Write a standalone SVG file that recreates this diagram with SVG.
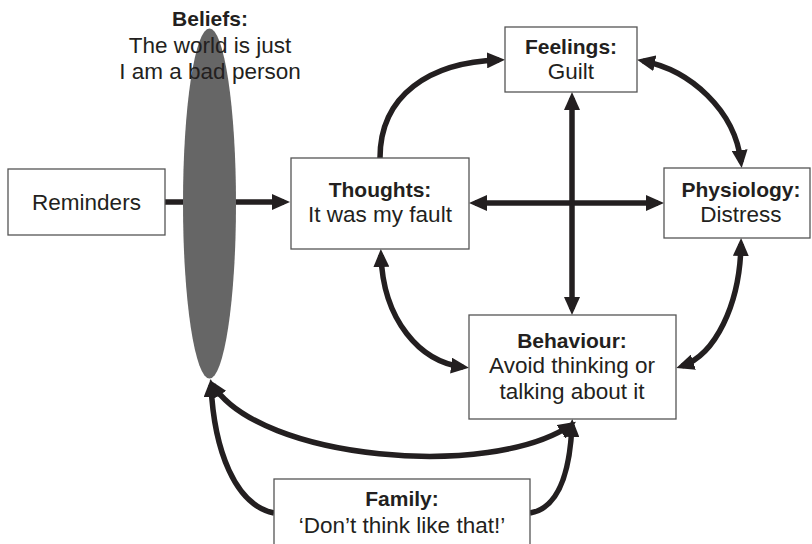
<svg xmlns="http://www.w3.org/2000/svg" width="812" height="544" viewBox="0 0 812 544">
  <style>
    .box { fill: #ffffff; stroke: #555555; stroke-width: 1.3; }
    .t { font-family: "Liberation Sans", Arial, sans-serif; font-size: 22.5px; fill: #231f20; text-anchor: middle; }
    .b { font-weight: bold; font-size: 21px; }
    .c { fill: none; stroke: #231f20; stroke-width: 5.5; }
  </style>
  <defs>
    <marker id="head" markerUnits="userSpaceOnUse" markerWidth="18" markerHeight="16" refX="12" refY="8" orient="auto-start-reverse">
      <path d="M0,0 L18,8 L0,16 Z" fill="#231f20"/>
    </marker>
  </defs>

  <rect width="812" height="544" fill="#ffffff"/>

  <!-- connectors -->
  <g id="connectors">
    <path class="c" d="M165,202 L284,202" marker-end="url(#head)"/>
    <path class="c" d="M380,158 C380,95 430,62 499,60" marker-end="url(#head)"/>
    <path class="c" d="M643,61 C690,70 735,110 741,162" marker-start="url(#head)" marker-end="url(#head)"/>
    <path class="c" d="M475,203 L658,203" marker-start="url(#head)" marker-end="url(#head)"/>
    <path class="c" d="M572,98 L572,309" marker-start="url(#head)" marker-end="url(#head)"/>
    <path class="c" d="M381,255 C383,320 420,362 463,367" marker-start="url(#head)" marker-end="url(#head)"/>
    <path class="c" d="M741,244 C740,305 715,355 682,366" marker-start="url(#head)" marker-end="url(#head)"/>
    <path class="c" d="M213,385 C260,460 490,480 571,425" marker-start="url(#head)" marker-end="url(#head)"/>
    <path class="c" d="M274,513 C235,505 214,450 211,385" marker-end="url(#head)"/>
    <path class="c" d="M530,513 C560,508 570,470 572,425" marker-end="url(#head)"/>
  </g>

  <!-- beliefs: filter over the pathway -->
  <g id="beliefs">
    <ellipse cx="209.5" cy="203.5" rx="26.5" ry="175" fill="#666666"/>
    <text class="t b" x="210" y="26">Beliefs:</text>
    <text class="t" x="210" y="53">The world is just</text>
    <text class="t" x="210" y="79">I am a bad person</text>
  </g>

  <g id="reminders">
    <rect class="box" x="8" y="169" width="157" height="66"/>
    <text class="t" x="86.5" y="210">Reminders</text>
  </g>

  <g id="thoughts">
    <rect class="box" x="291" y="158" width="178" height="91"/>
    <text class="t b" x="380" y="197">Thoughts:</text>
    <text class="t" x="380" y="222">It was my fault</text>
  </g>

  <g id="feelings">
    <rect class="box" x="505" y="27" width="132" height="65"/>
    <text class="t b" x="571" y="54">Feelings:</text>
    <text class="t" x="571" y="79">Guilt</text>
  </g>

  <g id="physiology">
    <rect class="box" x="664" y="168" width="146" height="70"/>
    <text class="t b" x="741" y="197">Physiology:</text>
    <text class="t" x="741" y="222">Distress</text>
  </g>

  <g id="behaviour">
    <rect class="box" x="469" y="315" width="207" height="104"/>
    <text class="t b" x="572" y="348">Behaviour:</text>
    <text class="t" x="572" y="373">Avoid thinking or</text>
    <text class="t" x="572" y="399">talking about it</text>
  </g>

  <g id="family">
    <rect class="box" x="274" y="479" width="256" height="80"/>
    <text class="t b" x="402" y="506">Family:</text>
    <text class="t" x="402" y="533">‘Don’t think like that!’</text>
  </g>
</svg>
